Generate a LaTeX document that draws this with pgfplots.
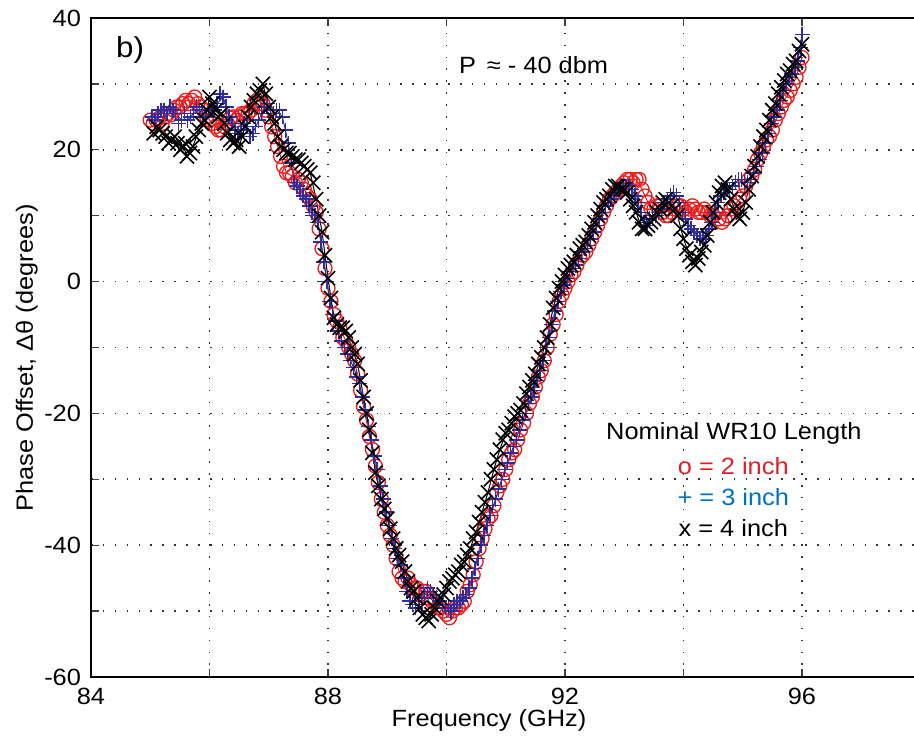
\documentclass[border=0pt]{standalone}
\usepackage{fontspec}
\setmainfont{Liberation Sans}[FakeStretch=1.08]
\usepackage{pgfplots}
\usepackage{pgfplotstable}
\pgfplotsset{compat=1.18}
\definecolor{mred}{RGB}{240,25,25}
\definecolor{mblue}{RGB}{45,45,160}
\definecolor{tred}{RGB}{220,30,40}
\definecolor{tblue}{RGB}{0,114,189}

\pgfplotstableread{
x y
85.0 24.5
85.1 24.5
85.2 24
85.3 25.5
85.4 26
85.5 26.5
85.6 27.5
85.7 27.5
85.8 27
85.9 26
86.0 24.5
86.1 23.5
86.2 23
86.3 24
86.4 25
86.5 25
86.6 25.5
86.7 26
86.8 27.5
86.9 27
87.0 25
87.1 22
87.2 19
87.3 16.5
87.4 16
87.5 15.5
87.6 14
87.7 12.5
87.8 10.5
87.9 5
88.0 -1
88.1 -5
88.2 -7
88.3 -9
88.4 -11
88.5 -14
88.6 -19
88.7 -23.5
88.8 -28
88.9 -33
89.0 -37
89.1 -40
89.2 -44
89.3 -45.5
89.4 -46
89.5 -46.5
89.6 -47
89.7 -48
89.8 -48.5
89.9 -49.5
90.0 -50.5
90.1 -50
90.2 -49.5
90.3 -48.5
90.4 -46
90.5 -42.5
90.6 -39
90.7 -36
90.8 -34
90.9 -31
91.0 -28.5
91.1 -26
91.2 -24
91.3 -21.5
91.4 -18.5
91.5 -16
91.6 -13.5
91.7 -10
91.8 -6.5
91.9 -3
92.0 -1
92.1 1
92.2 2.5
92.3 4
92.4 5.5
92.5 7.5
92.6 9.5
92.7 11.5
92.8 13
92.9 14
93.0 15
93.1 15.5
93.2 15.5
93.3 14
93.4 12
93.5 11
93.6 11.5
93.7 10
93.8 10.5
93.9 11.5
94.0 11
94.1 11
94.2 11
94.3 10.5
94.4 10.5
94.5 10
94.6 9.5
94.7 9.5
94.8 11
94.9 12
95.0 13
95.1 15.5
95.2 17
95.3 19.5
95.4 21.5
95.5 23
95.6 25.5
95.7 27.5
95.8 29
95.9 31
96.0 34
}\redtab

\pgfplotstableread{
x y
85.05 24.0
85.15 24.8
85.25 25.0
85.35 25.3
85.45 26.5
85.55 27.0
85.65 27.0
85.75 28.0
85.85 26.5
85.95 25.0
86.05 24.0
86.15 23.0
86.25 23.5
86.35 24.8
86.45 24.5
86.55 25.5
86.65 25.5
86.75 27.0
86.85 27.0
86.95 26.0
87.05 23.5
87.15 20.5
87.25 17.5
87.35 16.5
87.45 15.0
87.55 15.0
87.65 13.0
87.75 11.5
87.85 8.0
87.95 2.0
88.05 -3.0
88.15 -6.0
88.25 -8.5
88.35 -10.0
88.45 -12.0
88.55 -16.5
88.65 -21.0
88.75 -25.5
88.85 -30.5
88.95 -35.0
89.05 -38.5
89.15 -42.0
89.25 -45.0
89.35 -45.0
89.45 -46.5
89.55 -47.5
89.65 -47.0
89.75 -48.5
89.85 -49.5
89.95 -50.0
90.05 -51.0
90.15 -49.5
90.25 -49.0
90.35 -47.0
90.45 -44.5
90.55 -40.5
90.65 -37.5
90.75 -35.5
90.85 -32.0
90.95 -30.0
91.05 -27.0
91.15 -25.5
91.25 -22.5
91.35 -20.0
91.45 -17.5
91.55 -14.5
91.65 -12.0
91.75 -8.0
91.85 -5.0
91.95 -2.0
92.05 0.0
92.15 1.5
92.25 3.5
92.35 4.5
92.45 6.5
92.55 8.5
92.65 10.5
92.75 12.5
92.85 13.5
92.95 14.5
93.05 15.5
93.15 15.0
93.25 15.5
93.35 13.0
93.45 11.0
93.55 11.5
93.65 10.5
93.75 10.0
93.85 11.0
93.95 11.5
94.05 10.5
94.15 11.5
94.25 10.5
94.35 11.0
94.45 10.0
94.55 10.5
94.65 9.0
94.75 10.0
94.85 11.5
94.95 12.5
95.05 14.5
95.15 16.0
95.25 18.5
95.35 20.5
95.45 22.0
95.55 24.5
95.65 26.5
95.75 28.0
95.85 30.0
95.95 32.5
}\redmid

\pgfplotstableread{
x y
85.03 25
85.13 25.5
85.23 26
85.33 26.5
85.43 25.5
85.53 24.5
85.63 24.5
85.73 25.5
85.83 26
85.93 25
86.03 26
86.13 27
86.23 28
86.33 25
86.43 23
86.53 23
86.63 23.5
86.73 22.5
86.83 24.5
86.93 26.5
87.03 26
87.13 26
87.23 25
87.33 21
87.43 15
87.53 14
87.63 12.5
87.73 10.5
87.83 9
87.93 3
88.03 -3
88.13 -6
88.23 -9
88.33 -11
88.43 -13
88.53 -15.5
88.63 -19.5
88.73 -24
88.83 -28.5
88.93 -33
89.03 -37
89.13 -40.5
89.23 -43
89.33 -47
89.43 -49
89.53 -49
89.63 -47.5
89.73 -47
89.83 -48
89.93 -49
90.03 -49.5
90.13 -49
90.23 -48.5
90.33 -47.5
90.43 -45
90.53 -42
90.63 -38.5
90.73 -35.5
90.83 -33
90.93 -30
91.03 -27.5
91.13 -25
91.23 -22.5
91.33 -20
91.43 -17.5
91.53 -15
91.63 -12
91.73 -8.5
91.83 -4.5
91.93 -1.5
92.03 0.5
92.13 2
92.23 3.5
92.33 5
92.43 6.5
92.53 8.5
92.63 10.5
92.73 12
92.83 13.5
92.93 14
93.03 14.5
93.13 14
93.23 12
93.33 9
93.43 9.5
93.53 10
93.63 11
93.73 12.5
93.83 13.5
93.93 12
94.03 9.5
94.13 8
94.23 7
94.33 6.5
94.43 8
94.53 10.5
94.63 13
94.73 14
94.83 14.5
94.93 15.5
95.03 15
95.13 15.5
95.23 17.5
95.33 19.5
95.43 22.5
95.53 25
95.63 27.5
95.73 30
95.83 31.5
95.93 33.5
96.0 37.5
}\bluetab

\pgfplotstableread{
x y
85.08 24.5
85.18 26.0
85.28 25.5
85.38 26.0
85.48 24.0
85.58 25.5
85.68 25.0
85.78 26.5
85.88 25.5
85.98 26.0
86.08 26.0
86.18 28.5
86.28 26.5
86.38 24.0
86.48 22.5
86.58 24.0
86.68 22.0
86.78 23.5
86.88 25.5
86.98 27.0
87.08 25.5
87.18 26.0
87.28 23.0
87.38 18.0
87.48 14.5
87.58 13.0
87.68 11.5
87.78 10.0
87.88 6.0
87.98 0.0
88.08 -5.0
88.18 -7.5
88.28 -10.0
88.38 -12.0
88.48 -14.5
88.58 -17.5
88.68 -22.0
88.78 -26.5
88.88 -31.0
88.98 -35.0
89.08 -39.0
89.18 -42.0
89.28 -45.0
89.38 -48.5
89.48 -49.5
89.58 -48.0
89.68 -46.5
89.78 -47.5
89.88 -48.5
89.98 -49.5
90.08 -50.0
90.18 -48.5
90.28 -48.0
90.38 -46.5
90.48 -43.5
90.58 -40.0
90.68 -37.0
90.78 -34.0
90.88 -31.5
90.98 -28.5
91.08 -26.0
91.18 -24.0
91.28 -21.0
91.38 -18.5
91.48 -16.5
91.58 -13.5
91.68 -10.0
91.78 -6.5
91.88 -3.0
91.98 -0.5
92.08 1.5
92.18 2.5
92.28 4.5
92.38 5.5
92.48 7.5
92.58 9.5
92.68 11.5
92.78 12.5
92.88 14.0
92.98 14.5
93.08 14.5
93.18 13.0
93.28 10.5
93.38 8.5
93.48 10.0
93.58 10.5
93.68 12.0
93.78 13.0
93.88 13.0
93.98 10.5
94.08 8.5
94.18 7.5
94.28 6.5
94.38 7.0
94.48 9.0
94.58 12.0
94.68 13.5
94.78 14.0
94.88 15.0
94.98 15.5
95.08 15.0
95.18 16.5
95.28 18.5
95.38 21.0
95.48 24.0
95.58 26.0
95.68 29.0
95.78 31.0
95.88 32.5
95.98 35.5
}\bluemid

\pgfplotstableread{
x y
85.06 22.5
85.16 23
85.26 22
85.36 21.5
85.46 21
85.56 20.5
85.62 19
85.72 20.5
85.82 23
85.92 24.5
86.0 28
86.1 26
86.2 25.5
86.3 22.5
86.4 21
86.5 20.5
86.6 23.5
86.7 26.5
86.8 28.5
86.9 30
87.0 26.5
87.1 24
87.2 20.5
87.3 19.5
87.4 19
87.5 18.5
87.6 17.5
87.7 16.5
87.8 12.5
87.9 7.5
88.0 0.5
88.1 -5.5
88.2 -7
88.3 -7.5
88.4 -10
88.5 -12.5
88.6 -17.5
88.7 -22.5
88.8 -29
88.9 -33
89.0 -36
89.1 -39
89.2 -41.5
89.3 -44
89.4 -46.5
89.5 -48
89.6 -50.5
89.7 -51.5
89.8 -49.5
89.9 -48
90.0 -46.5
90.1 -45
90.2 -44
90.3 -42.5
90.4 -40.5
90.5 -38
90.6 -35
90.7 -32
90.8 -28.5
90.9 -25.5
91.0 -23
91.1 -21.5
91.2 -20
91.3 -18.5
91.4 -16
91.5 -14
91.6 -11.5
91.7 -8.5
91.8 -4
91.9 -1
92.0 1
92.1 2.5
92.2 4
92.3 5.5
92.4 7
92.5 9
92.6 11
92.7 12.5
92.8 14
92.9 14.5
93.0 14
93.1 12.5
93.2 10.5
93.3 8
93.4 8.5
93.5 9.5
93.6 11
93.7 12.5
93.8 11.5
93.9 10
94.0 6.5
94.1 4
94.2 2.5
94.3 4.5
94.4 7
94.5 10.5
94.6 13.5
94.7 15
94.8 12.5
94.9 10
95.0 10.5
95.1 14
95.2 17.5
95.3 20.5
95.4 23
95.5 26
95.6 28.5
95.7 30.5
95.8 32
95.9 33.5
96.0 36
}\blacktab

\pgfplotstableread{
x y
85.11 23.5
85.21 22.5
85.31 21.0
85.41 22.0
85.51 20.0
85.59 21.0
85.67 19.5
85.77 22.0
85.87 24.0
85.96 26.0
86.05 27.0
86.15 25.0
86.25 24.0
86.35 21.5
86.45 21.5
86.55 22.0
86.65 25.0
86.75 27.5
86.85 29.0
86.95 28.5
87.05 25.0
87.15 22.0
87.25 20.0
87.35 19.5
87.45 18.5
87.55 18.0
87.65 17.0
87.75 15.0
87.85 10.0
87.95 4.0
88.05 -2.5
88.15 -6.5
88.25 -7.0
88.35 -8.5
88.45 -11.0
88.55 -15.0
88.65 -20.0
88.75 -26.0
88.85 -31.0
88.95 -34.5
89.05 -37.5
89.15 -40.5
89.25 -42.5
89.35 -45.5
89.45 -47.0
89.55 -49.5
89.65 -51.0
89.75 -50.5
89.85 -48.5
89.95 -47.5
90.05 -45.5
90.15 -44.5
90.25 -43.0
90.35 -41.5
90.45 -39.0
90.55 -36.5
90.65 -33.5
90.75 -30.0
90.85 -27.0
90.95 -24.0
91.05 -22.5
91.15 -20.5
91.25 -19.5
91.35 -17.0
91.45 -15.0
91.55 -12.5
91.65 -10.0
91.75 -6.5
91.85 -2.5
91.95 0.0
92.05 2.0
92.15 3.0
92.25 5.0
92.35 6.0
92.45 8.0
92.55 10.0
92.65 12.0
92.75 13.0
92.85 14.5
92.95 14.0
93.05 13.5
93.15 11.5
93.25 9.0
93.35 8.0
93.45 9.0
93.55 10.5
93.65 12.0
93.75 12.0
93.85 11.0
93.95 8.0
94.05 5.0
94.15 3.0
94.25 3.5
94.35 5.5
94.45 9.0
94.55 12.0
94.65 14.5
94.75 14.0
94.85 11.0
94.95 9.5
95.05 12.0
95.15 16.0
95.25 19.0
95.35 22.0
95.45 24.5
95.55 27.0
95.65 29.5
95.75 31.5
95.85 33.0
95.95 35.0
}\blackmid

\begin{document}
\fontsize{23.5}{28}\selectfont
\begin{tikzpicture}
\begin{axis}[
  name=ax,
  scale only axis,
  width=829.5pt, height=659pt,
  xmin=84, xmax=98, ymin=-60, ymax=40,
  xtick={84,86,...,98},
  xticklabels={84,,88,,92,,96,},
  ytick={-60,-50,...,40},
  yticklabels={-60,,-40,,-20,,0,,20,,40},
  tick align=inside,
  major tick length=8pt,
  tick style={line width=1.3pt, color=black!75},
  axis line style={line width=2.6pt},
  grid=major,
  major grid style={line width=1.6pt, color=black!80, dash pattern=on 1.6pt off 10.3pt},
  xticklabel style={yshift=-3pt},
  yticklabel style={xshift=-2pt},
  xlabel={Frequency (GHz)},
  ylabel={Phase Offset, Δθ (degrees)},
  every axis x label/.style={at={(axis description cs:0.4798,0)}, anchor=base, yshift=-50pt},
  every axis y label/.style={at={(axis description cs:-0.070,0.484)}, rotate=90, anchor=base},
  clip=false,
]
\addplot[color=mred, line width=1pt, mark=o, mark size=7pt, mark options={line width=1.3pt}] table[x=x,y=y] {\redtab};
\addplot[color=mred, only marks, mark=o, mark size=7pt, mark options={line width=1.3pt}] table[x=x,y=y] {\redmid};
\addplot[color=mblue, line width=1pt, mark=+, mark size=7.5pt, mark options={line width=1.5pt}] table[x=x,y=y] {\bluetab};
\addplot[color=mblue, only marks, mark=+, mark size=7.5pt, mark options={line width=1.5pt}] table[x=x,y=y] {\bluemid};
\addplot[color=black, line width=1pt, mark=x, mark size=10pt, mark options={line width=1.6pt}] table[x=x,y=y] {\blacktab};
\addplot[color=black, only marks, mark=x, mark size=10pt, mark options={line width=1.6pt}] table[x=x,y=y] {\blackmid};
\node[font=\fontsize{29}{32}\selectfont] at (axis cs:84.66,35.1) {b)};
\node at (axis cs:91.47,32.9) {P\, ≈ - 40 dbm};
\node at (axis cs:94.85,-23.1) {Nominal WR10 Length};
\node[text=tred] at (axis cs:94.84,-28.0) {o = 2 inch};
\node[text=tblue] at (axis cs:94.84,-32.7) {+ = 3 inch};
\node[text=black] at (axis cs:94.84,-37.4) {x = 4 inch};
\end{axis}
\pgfresetboundingbox
\useasboundingbox ([shift={(-91pt,-60pt)}]ax.south west) rectangle ([shift={(823pt,18pt)}]ax.north west);
\end{tikzpicture}
\end{document}
